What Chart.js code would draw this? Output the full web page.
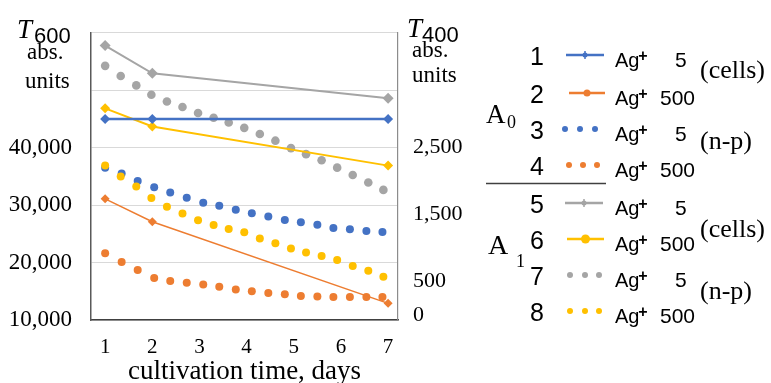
<!DOCTYPE html>
<html><head><meta charset="utf-8">
<script src="https://cdn.jsdelivr.net/npm/chart.js@4/dist/chart.umd.min.js"></script>
<style>html,body{margin:0;padding:0;background:#fff}#wrap{width:771px;height:383px;position:relative}</style>
</head><body><div id="wrap"><canvas id="c" width="771" height="383"></canvas></div>
<script>
// ---- data ----
const xTicks = [1, 2, 3, 4, 5, 6, 7];
const leftTicks = [10000, 20000, 30000, 40000, 50000, 60000];
const rightTicks = [0, 500, 1500, 2500];

const solidDays = [1, 2, 7];
const npDaysA0 = [1, 1.35, 1.69, 2.04, 2.38, 2.73, 3.08, 3.42, 3.77, 4.11, 4.46, 4.81, 5.15, 5.5, 5.84, 6.19, 6.54, 6.88];
const npDaysA1 = [1, 1.33, 1.66, 1.98, 2.31, 2.64, 2.97, 3.3, 3.62, 3.95, 4.28, 4.61, 4.94, 5.26, 5.59, 5.92, 6.25, 6.58, 6.9];

// A0 (left axis, T600)
const s1_cells_ag5 = [45000, 45000, 45000];
const s2_cells_ag500 = [31100, 27100, 12900];
const s3_np_ag5 = [36500, 35500, 34200, 33100, 32200, 31300, 30400, 29900, 29200, 28600, 28000, 27400, 27000, 26600, 26000, 25800, 25500, 25300];
const s4_np_ag500 = [21600, 20100, 18700, 17300, 16800, 16500, 16200, 15800, 15300, 15000, 14700, 14500, 14200, 14100, 14000, 14000, 14000, 14000];
// A1 (right axis, T400)
const s5_cells_ag5 = [4000, 3590, 3220];
const s6_cells_ag500 = [3070, 2800, 2220];
const s7_np_ag5 = [3700, 3550, 3410, 3270, 3170, 3090, 3000, 2930, 2860, 2780, 2690, 2590, 2480, 2390, 2300, 2190, 2080, 1970, 1860];
const s8_np_ag500 = [2220, 2060, 1910, 1740, 1610, 1510, 1410, 1340, 1280, 1230, 1140, 1070, 990, 930, 880, 820, 730, 660, 570];

// ---- styles ----
const BLUE = '#4472C4', ORANGE = '#ED7D31', GRAY = '#A5A5A5', YELLOW = '#FFC000';
const serif = "'Liberation Serif','Times New Roman',serif";
const sans = "'Liberation Sans',Arial,sans-serif";

const pts = (xs, ys) => ys.map((y, i) => ({x: xs[i], y}));
const solid = (label, ys, color, axis, r, w) => ({
  label, data: pts(solidDays, ys), yAxisID: axis, showLine: true,
  borderColor: color, backgroundColor: color, borderWidth: w,
  pointStyle: 'rectRot', pointRadius: r, pointBorderWidth: 0
});
const dots = (label, xs, ys, color, axis, r) => ({
  label, data: pts(xs, ys), yAxisID: axis, showLine: false,
  borderColor: color, backgroundColor: color,
  pointStyle: 'circle', pointRadius: r, pointBorderWidth: 0
});

const fmt = v => Number(v).toLocaleString('en-US');

const overlay = {
  id: 'overlay',
  afterDraw(chart) {
    const c = chart.ctx;
    c.save();
    c.fillStyle = '#000';
    c.textAlign = 'left';
    c.textBaseline = 'alphabetic';
    // left axis title
    c.font = `italic 27px ${serif}`; c.fillText('T', 17, 38);
    c.font = `22px ${sans}`; c.fillText('600', 34, 43);
    c.font = `23px ${serif}`; c.fillText('abs.', 27, 59); c.fillText('units', 25, 88);
    // right axis title
    c.font = `italic 27px ${serif}`; c.fillText('T', 407, 37);
    c.font = `22px ${sans}`; c.fillText('400', 422, 42);
    c.font = `23px ${serif}`; c.fillText('abs.', 412, 57); c.fillText('units', 412, 82);

    // legend
    const rows = [
      {n: '1', y: 57, amt: '5', kind: 'line', color: BLUE, x0: 566, x1: 604, m: 'plus'},
      {n: '2', y: 95, amt: '500', kind: 'line', color: ORANGE, x0: 569, x1: 605, m: 'dot'},
      {n: '3', y: 131, amt: '5', kind: 'dots', color: BLUE, xs: [565, 580, 595]},
      {n: '4', y: 167, amt: '500', kind: 'dots', color: ORANGE, xs: [569, 583, 597]},
      {n: '5', y: 205, amt: '5', kind: 'line', color: GRAY, x0: 565, x1: 603, m: 'plus'},
      {n: '6', y: 241, amt: '500', kind: 'line', color: YELLOW, x0: 567, x1: 604, m: 'big'},
      {n: '7', y: 277, amt: '5', kind: 'dots', color: GRAY, xs: [570, 585, 599]},
      {n: '8', y: 313, amt: '500', kind: 'dots', color: YELLOW, xs: [570, 585, 599]}
    ];
    rows.forEach(r => {
      c.fillStyle = '#000';
      c.font = `25px ${sans}`; c.textAlign = 'center'; c.textBaseline = 'middle';
      c.fillText(r.n, 537, r.y + 1);
      c.textAlign = 'left'; c.textBaseline = 'alphabetic';
      c.font = `20px ${sans}`; c.fillText('Ag', 615, r.y + 10);
      c.font = `bold 16px ${sans}`; c.textAlign = 'center'; c.textBaseline = 'middle';
      c.fillText('+', 643, r.y);
      c.textAlign = 'left'; c.textBaseline = 'alphabetic';
      c.font = `21px ${sans}`;
      c.fillText(r.amt, r.amt === '5' ? 675 : 660, r.y + 10);
      c.fillStyle = r.color; c.strokeStyle = r.color;
      const ly = r.y - 2;
      if (r.kind === 'line') {
        c.lineWidth = 2.5;
        c.beginPath(); c.moveTo(r.x0, ly); c.lineTo(r.x1, ly); c.stroke();
        const mx = (r.x0 + r.x1) / 2;
        if (r.m === 'big') { c.beginPath(); c.arc(mx, ly, 4.5, 0, Math.PI * 2); c.fill(); }
        else if (r.m === 'dot') { c.beginPath(); c.arc(mx, ly, 3.5, 0, Math.PI * 2); c.fill(); }
        else { c.beginPath(); c.arc(mx, ly, 2.5, 0, Math.PI * 2); c.fill();
               c.lineWidth = 1.5; c.beginPath(); c.moveTo(mx, ly - 4); c.lineTo(mx, ly + 4); c.stroke(); }
      } else {
        r.xs.forEach(x => { c.beginPath(); c.arc(x, ly, 3, 0, Math.PI * 2); c.fill(); });
      }
    });
    c.fillStyle = '#000';
    c.textAlign = 'left'; c.textBaseline = 'middle';
    c.font = `26px ${serif}`;
    c.fillText('(cells)', 700, 71);
    c.fillText('(n-p)', 700, 142);
    c.fillText('(cells)', 700, 230);
    c.fillText('(n-p)', 700, 292);
    c.textBaseline = 'alphabetic';
    c.font = `27px ${serif}`; c.fillText('A', 486, 123);
    c.font = `18px ${serif}`; c.fillText('0', 507, 128);
    c.font = `28px ${serif}`; c.fillText('A', 488, 254);
    c.font = `18px ${serif}`; c.fillText('1', 516, 267);
    c.strokeStyle = '#404040'; c.lineWidth = 1.3;
    c.beginPath(); c.moveTo(486, 183.5); c.lineTo(606, 183.5); c.stroke();
    c.restore();
  }
};

new Chart(document.getElementById('c'), {
  type: 'scatter',
  data: {
    datasets: [
      solid('1 Ag+ 5 (cells)', s1_cells_ag5, BLUE, 'y', 5, 2.4),
      solid('2 Ag+ 500 (cells)', s2_cells_ag500, ORANGE, 'y', 4.5, 1.5),
      solid('6 Ag+ 500 (cells)', s6_cells_ag500, YELLOW, 'y1', 5, 2),
      solid('5 Ag+ 5 (cells)', s5_cells_ag5, GRAY, 'y1', 5.5, 2),
      dots('8 Ag+ 500 (n-p)', npDaysA1, s8_np_ag500, YELLOW, 'y1', 4),
      dots('3 Ag+ 5 (n-p)', npDaysA0, s3_np_ag5, BLUE, 'y', 4),
      dots('4 Ag+ 500 (n-p)', npDaysA0, s4_np_ag500, ORANGE, 'y', 4),
      dots('7 Ag+ 5 (n-p)', npDaysA1, s7_np_ag5, GRAY, 'y1', 4.3)
    ]
  },
  options: {
    responsive: false, animation: false, devicePixelRatio: 1,
    layout: {padding: {left: 0, right: 293, top: 29, bottom: 0}},
    plugins: {legend: {display: false}, tooltip: {enabled: false}},
    scales: {
      x: {
        type: 'linear', position: 'bottom', min: 0.7, max: 7.21,
        afterBuildTicks: s => { s.ticks = xTicks.map(v => ({value: v})); },
        afterFit: s => { s.height = 63; },
        grid: {display: false, drawTicks: false},
        border: {display: true, color: '#404040', width: 1.5},
        ticks: {font: {family: serif, size: 21}, color: '#000', padding: 15, maxRotation: 0, autoSkip: false},
        title: {display: true, text: 'cultivation time, days', color: '#000',
                font: {family: serif, size: 27, lineHeight: 0.85}, padding: 0}
      },
      y: {
        type: 'linear', position: 'left', min: 10000, max: 60000,
        afterBuildTicks: s => { s.ticks = leftTicks.map(v => ({value: v})); },
        afterFit: s => { s.width = 91; },
        grid: {color: '#d9d9d9', drawTicks: false, lineWidth: 1},
        border: {display: true, color: '#595959', width: 1.5},
        ticks: {font: {family: serif, size: 23}, color: '#000', padding: 19,
                callback: v => v <= 40000 ? fmt(v) : ''}
      },
      y1: {
        type: 'linear', position: 'right', min: -70, max: 4190,
        afterBuildTicks: s => { s.ticks = rightTicks.map(v => ({value: v})); },
        afterFit: s => { s.width = 80; },
        grid: {display: false, drawTicks: false},
        border: {display: true, color: '#8c8c8c', width: 1.2},
        ticks: {font: {family: serif, size: 22}, color: '#000', padding: 15,
                callback: v => fmt(v)}
      }
    }
  },
  plugins: [overlay]
});
</script>
</body></html>
